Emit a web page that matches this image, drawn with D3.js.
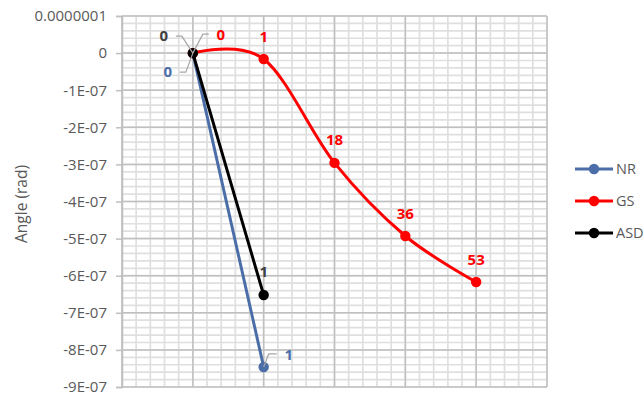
<!DOCTYPE html>
<html>
<head>
<meta charset="utf-8">
<script src="https://cdn.jsdelivr.net/npm/d3@7"></script>
<style>
  html, body { margin: 0; padding: 0; background: #fff; }
  svg { display: block; font-family: "Open Sans", "Noto Sans", sans-serif; }
</style>
</head>
<body>
<svg id="chart" width="644" height="397"></svg>
<script>
// Series: step index (x), angle in radians (y), and the iteration count shown as a label
const nrX = [0, 1];
const nrY = [0, -8.46e-7];
const nrLabels = [0, 1];

const gsX = [0, 1, 2, 3, 4];
const gsY = [0, -1.6e-8, -2.96e-7, -4.93e-7, -6.17e-7];
const gsLabels = [0, 1, 18, 36, 53];

const asdX = [0, 1];
const asdY = [0, -6.52e-7];
const asdLabels = [0, 1];

const seriesNames = ["NR", "GS", "ASD"];

const yTickValues = [1e-7, 0, -1e-7, -2e-7, -3e-7, -4e-7, -5e-7, -6e-7, -7e-7, -8e-7, -9e-7];
const yTickLabels = ["0.0000001", "0", "-1E-07", "-2E-07", "-3E-07", "-4E-07", "-5E-07", "-6E-07", "-7E-07", "-8E-07", "-9E-07"];

const svg = d3.select("#chart");

const plot = { left: 122, right: 547, top: 16, bottom: 387 };
const x = d3.scaleLinear().domain([-1, 5]).range([plot.left, plot.right]);
const y = d3.scaleLinear().domain([-9e-7, 1e-7]).range([plot.bottom, plot.top]);

const textGray = "#595959";
const colors = { NR: "#4b6ea9", GS: "#ff0000", ASD: "#000000" };
const labelColors = { NR: "#4b6ea9", GS: "#ff0000", ASD: "#404040" };

// Minor gridlines
const grid = svg.append("g");
const xMinor = d3.range(-1, 5.0001, 0.2);
const yMinor = d3.range(-9e-7, 1.0001e-7, 2e-8);
grid.selectAll("line.vminor").data(xMinor).join("line")
  .attr("x1", d => x(d)).attr("x2", d => x(d))
  .attr("y1", plot.top).attr("y2", plot.bottom)
  .attr("stroke", "#dfdfdf").attr("stroke-width", 1.7);
grid.selectAll("line.hminor").data(yMinor).join("line")
  .attr("x1", plot.left).attr("x2", plot.right)
  .attr("y1", d => y(d)).attr("y2", d => y(d))
  .attr("stroke", "#dfdfdf").attr("stroke-width", 1.7);

// Major gridlines
grid.selectAll("line.vmajor").data(d3.range(-1, 6, 1)).join("line")
  .attr("x1", d => x(d)).attr("x2", d => x(d))
  .attr("y1", plot.top).attr("y2", plot.bottom)
  .attr("stroke", "#c0c0c0").attr("stroke-width", 1.5);
grid.selectAll("line.hmajor").data(yTickValues).join("line")
  .attr("x1", plot.left).attr("x2", plot.right)
  .attr("y1", d => y(d)).attr("y2", d => y(d))
  .attr("stroke", "#c0c0c0").attr("stroke-width", 1.5);

// Vertical value axis
const yAxis = d3.axisLeft(y)
  .tickValues(yTickValues)
  .tickFormat((d, i) => yTickLabels[i])
  .tickSize(6)
  .tickPadding(9);
const ya = svg.append("g").attr("transform", `translate(${plot.left},0)`).call(yAxis);
ya.select(".domain").attr("stroke", "#bfbfbf").attr("stroke-width", 1.5);
ya.selectAll(".tick line").attr("stroke", "#bfbfbf").attr("stroke-width", 1.5);
ya.selectAll(".tick text")
  .attr("fill", textGray)
  .style("font-size", "15px")
  .style("font-family", "'Open Sans', sans-serif");

// Axis title
svg.append("text")
  .attr("transform", "translate(27,204) rotate(-90)")
  .attr("text-anchor", "middle")
  .attr("fill", textGray)
  .style("font-size", "15.5px")
  .text("Angle (rad)");

// Lines and markers
const straight = d3.line().x(d => x(d[0])).y(d => y(d[1]));
const smooth = d3.line().x(d => x(d[0])).y(d => y(d[1])).curve(d3.curveCardinal.tension(0));

const series = [
  { name: "NR", xs: nrX, ys: nrY, labels: nrLabels, line: straight },
  { name: "GS", xs: gsX, ys: gsY, labels: gsLabels, line: smooth },
  { name: "ASD", xs: asdX, ys: asdY, labels: asdLabels, line: straight }
];

series.forEach(s => {
  const pts = s.xs.map((v, i) => [v, s.ys[i]]);
  const g = svg.append("g");
  g.append("path")
    .attr("d", s.line(pts))
    .attr("fill", "none")
    .attr("stroke", colors[s.name])
    .attr("stroke-width", 3)
    .attr("stroke-linejoin", "round")
    .attr("stroke-linecap", "round");
  g.selectAll("circle").data(pts).join("circle")
    .attr("cx", d => x(d[0])).attr("cy", d => y(d[1]))
    .attr("r", 5.2)
    .attr("fill", colors[s.name]);
});

// Data labels: default position is centred above the point;
// some labels are moved aside with a leader line back to the point.
const moved = {
  "NR-0": { dx: -25, dy: 24, leader: [[-7, 19], [-13, 19]] },
  "NR-1": { dx: 25, dy: -7, leader: [[5, -13], [13, -13]] },
  "GS-0": { dx: 28, dy: -13, leader: [[10, -19], [16, -19]] },
  "ASD-0": { dx: -29, dy: -12, leader: [[-11, -17], [-17, -17]] }
};

const labelLayer = svg.append("g");
series.forEach(s => {
  s.xs.forEach((xv, i) => {
    const px = x(xv), py = y(s.ys[i]);
    const key = `${s.name}-${i}`;
    const m = moved[key];
    let tx = px, ty = py - 17.5;
    if (m) {
      tx = px + m.dx;
      ty = py + m.dy;
      const path = d3.path();
      path.moveTo(px, py);
      m.leader.forEach(p => path.lineTo(px + p[0], py + p[1]));
      labelLayer.append("path")
        .attr("d", path.toString())
        .attr("fill", "none")
        .attr("stroke", "#a6a6a6")
        .attr("stroke-width", 1.2);
    }
    labelLayer.append("text")
      .attr("x", tx).attr("y", ty)
      .attr("text-anchor", "middle")
      .attr("fill", labelColors[s.name])
      .style("font-size", "15px")
      .style("font-weight", "bold")
      .text(s.labels[i]);
  });
});

// Legend
const legend = svg.append("g");
const legendY = [169, 201, 233];
seriesNames.forEach((name, i) => {
  const ly = legendY[i];
  legend.append("line")
    .attr("x1", 575).attr("x2", 613)
    .attr("y1", ly).attr("y2", ly)
    .attr("stroke", colors[name]).attr("stroke-width", 3);
  legend.append("circle")
    .attr("cx", 594).attr("cy", ly).attr("r", 5.2)
    .attr("fill", colors[name]);
  legend.append("text")
    .attr("x", 616).attr("y", ly + 5)
    .attr("fill", textGray)
    .style("font-size", "14.5px")
    .text(name);
});
</script>
</body>
</html>
